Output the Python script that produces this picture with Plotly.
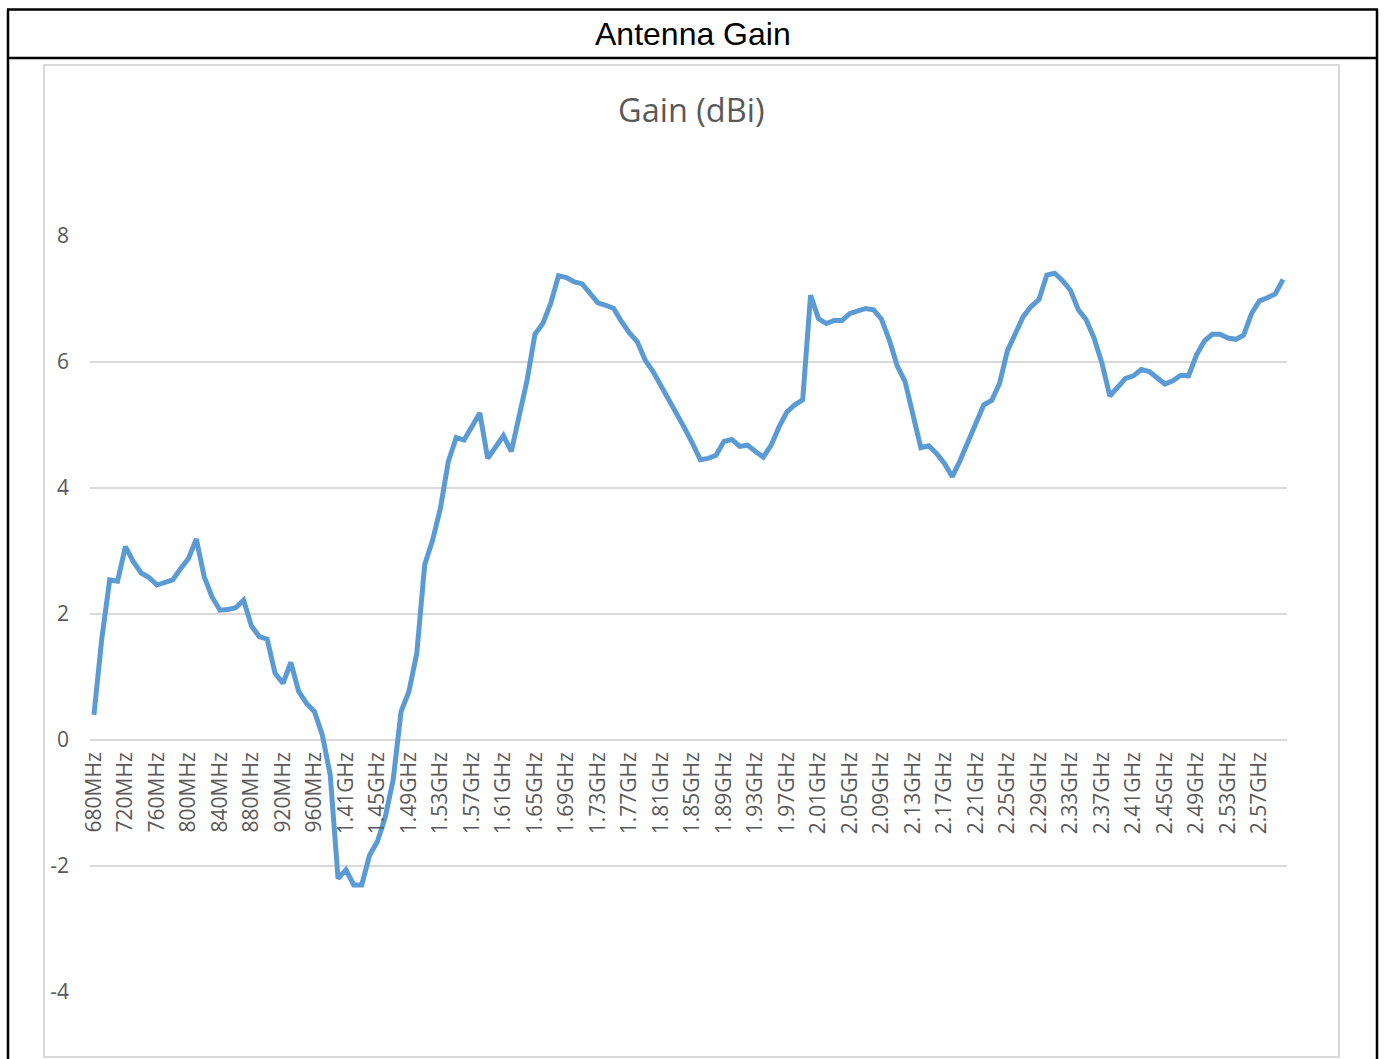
import plotly.graph_objects as go

# ---------------- data ----------------
categories = (
    ["680MHz", "690MHz", "700MHz", "710MHz", "720MHz", "730MHz", "740MHz", "750MHz",
     "760MHz", "770MHz", "780MHz", "790MHz", "800MHz", "810MHz", "820MHz", "830MHz",
     "840MHz", "850MHz", "860MHz", "870MHz", "880MHz", "890MHz", "900MHz", "910MHz",
     "920MHz", "930MHz", "940MHz", "950MHz", "960MHz", "970MHz", "980MHz"]
    + ["1.4GHz", "1.41GHz", "1.42GHz", "1.43GHz", "1.44GHz", "1.45GHz", "1.46GHz", "1.47GHz",
       "1.48GHz", "1.49GHz", "1.5GHz", "1.51GHz", "1.52GHz", "1.53GHz", "1.54GHz", "1.55GHz",
       "1.56GHz", "1.57GHz", "1.58GHz", "1.59GHz", "1.6GHz", "1.61GHz", "1.62GHz", "1.63GHz",
       "1.64GHz", "1.65GHz", "1.66GHz", "1.67GHz", "1.68GHz", "1.69GHz", "1.7GHz", "1.71GHz",
       "1.72GHz", "1.73GHz", "1.74GHz", "1.75GHz", "1.76GHz", "1.77GHz", "1.78GHz", "1.79GHz",
       "1.8GHz", "1.81GHz", "1.82GHz", "1.83GHz", "1.84GHz", "1.85GHz", "1.86GHz", "1.87GHz",
       "1.88GHz", "1.89GHz", "1.9GHz", "1.91GHz", "1.92GHz", "1.93GHz", "1.94GHz", "1.95GHz",
       "1.96GHz", "1.97GHz", "1.98GHz", "1.99GHz", "2GHz", "2.01GHz", "2.02GHz", "2.03GHz",
       "2.04GHz", "2.05GHz", "2.06GHz", "2.07GHz", "2.08GHz", "2.09GHz", "2.1GHz", "2.11GHz",
       "2.12GHz", "2.13GHz", "2.14GHz", "2.15GHz", "2.16GHz", "2.17GHz", "2.18GHz", "2.19GHz",
       "2.2GHz", "2.21GHz", "2.22GHz", "2.23GHz", "2.24GHz", "2.25GHz", "2.26GHz", "2.27GHz",
       "2.28GHz", "2.29GHz", "2.3GHz", "2.31GHz", "2.32GHz", "2.33GHz", "2.34GHz", "2.35GHz",
       "2.36GHz", "2.37GHz", "2.38GHz", "2.39GHz", "2.4GHz", "2.41GHz", "2.42GHz", "2.43GHz",
       "2.44GHz", "2.45GHz", "2.46GHz", "2.47GHz", "2.48GHz", "2.49GHz", "2.5GHz", "2.51GHz",
       "2.52GHz", "2.53GHz", "2.54GHz", "2.55GHz", "2.56GHz", "2.57GHz", "2.58GHz", "2.59GHz",
       "2.6GHz"]
)

gain_dbi = [
    0.40, 1.61, 2.54, 2.52, 3.07, 2.83, 2.65, 2.58, 2.46, 2.49,
    2.54, 2.72, 2.88, 3.19, 2.59, 2.27, 2.06, 2.07, 2.10, 2.22,
    1.81, 1.64, 1.60, 1.06, 0.90, 1.23, 0.77, 0.58, 0.45, 0.08,
    -0.55,
    -2.20, -2.06, -2.30, -2.30, -1.83, -1.61, -1.22, -0.63, 0.45, 0.77,
    1.38, 2.78, 3.17, 3.68, 4.42, 4.80, 4.76, 4.97, 5.19, 4.47,
    4.66, 4.83, 4.58, 5.19, 5.71,
    6.44, 6.61, 6.93, 7.37, 7.34, 7.27, 7.24, 7.09, 6.94, 6.90,
    6.85, 6.64, 6.46, 6.32, 6.03, 5.85, 5.63, 5.42, 5.19, 4.95,
    4.71, 4.45, 4.47, 4.52, 4.74, 4.77, 4.66, 4.68, 4.58, 4.49,
    4.68, 4.97, 5.21, 5.32, 5.40, 7.06, 6.69, 6.61, 6.66, 6.66,
    6.77, 6.81, 6.85, 6.83, 6.68, 6.35, 5.94, 5.69, 5.13, 4.64,
    4.67, 4.55, 4.39, 4.18, 4.44, 4.74, 5.03, 5.32, 5.39, 5.66,
    6.18, 6.43,
    6.72, 6.88, 6.99, 7.38, 7.41, 7.29, 7.14, 6.83, 6.67, 6.38,
    5.98, 5.46, 5.61, 5.74, 5.78, 5.88, 5.85, 5.76, 5.65, 5.70,
    5.79, 5.78, 6.11, 6.33, 6.44, 6.44, 6.38, 6.36, 6.43, 6.77,
    6.97, 7.02, 7.08, 7.31,
]

x_tick_labels = categories[::4]
y_tick_values = [-4, -2, 0, 2, 4, 6, 8]

# ---------------- layout geometry (pixels) ----------------
W, H = 1384, 1059
PL, PR, PT, PB = 90, 1287, 236, 992   # plot area
Y_MIN, Y_MAX = -4, 8


def fx(px):
    return (px - PL) / (PR - PL)


def fy(py):
    return (PB - py) / (PB - PT)


GRAY_TXT = "#595959"
FONT = "Open Sans, Noto Sans, sans-serif"

fig = go.Figure()
fig.add_trace(go.Scatter(
    x=categories, y=gain_dbi, mode="lines",
    line=dict(color="#5B9BD5", width=5, shape="linear"),
    hoverinfo="x+y", showlegend=False,
))

shapes = []
# chart area border (light gray)
shapes.append(dict(type="rect", xref="paper", yref="paper",
                   x0=fx(44), x1=fx(1339), y0=fy(65), y1=fy(1057),
                   line=dict(color="#D9D9D9", width=2), fillcolor="rgba(0,0,0,0)",
                   layer="below"))
# table borders (black)
for (x0, y0, x1, y1) in [(7, 9.5, 1378, 9.5), (7, 58, 1378, 58),
                         (8, 9.5, 8, 1070), (1377, 9.5, 1377, 1070)]:
    shapes.append(dict(type="line", xref="paper", yref="paper",
                       x0=fx(x0), x1=fx(x1), y0=fy(y0), y1=fy(y1),
                       line=dict(color="#000000", width=2.5), layer="above"))

annotations = [
    dict(text="Antenna Gain", xref="paper", yref="paper", x=fx(693), y=fy(34),
         xanchor="center", yanchor="middle", showarrow=False,
         font=dict(family="Liberation Sans, Arial, sans-serif", size=32, color="#000000")),
    dict(text="Gain (dBi)", xref="paper", yref="paper", x=fx(691), y=fy(110),
         xanchor="center", yanchor="middle", showarrow=False,
         font=dict(family=FONT, size=32.5, color=GRAY_TXT)),
]

fig.update_layout(
    width=W, height=H,
    margin=dict(l=PL, r=W - PR, t=PT, b=H - PB, pad=0),
    paper_bgcolor="white", plot_bgcolor="white",
    shapes=shapes, annotations=annotations,
    xaxis=dict(
        type="category", range=[-0.5, len(categories) - 0.5],
        tickmode="array", tickvals=x_tick_labels, ticktext=x_tick_labels,
        tickangle=-90, ticks="", showgrid=False, showline=False, zeroline=False,
        anchor="free", position=(0 - Y_MIN) / (Y_MAX - Y_MIN),
        tickfont=dict(family=FONT, size=21, color=GRAY_TXT),
        ticklabelstandoff=7,
    ),
    yaxis=dict(
        range=[Y_MIN, Y_MAX], tickmode="array", tickvals=y_tick_values,
        ticktext=[str(v) for v in y_tick_values],
        showgrid=True, gridcolor="#D9D9D9", gridwidth=2,
        zeroline=False, showline=False, ticks="",
        tickfont=dict(family=FONT, size=21, color=GRAY_TXT),
        ticklabelstandoff=20,
    ),
)

fig.write_html(
    "out.html",
    config={"displayModeBar": False},
    post_script="document.body.style.margin='0px';document.body.style.overflow='hidden';",
)
